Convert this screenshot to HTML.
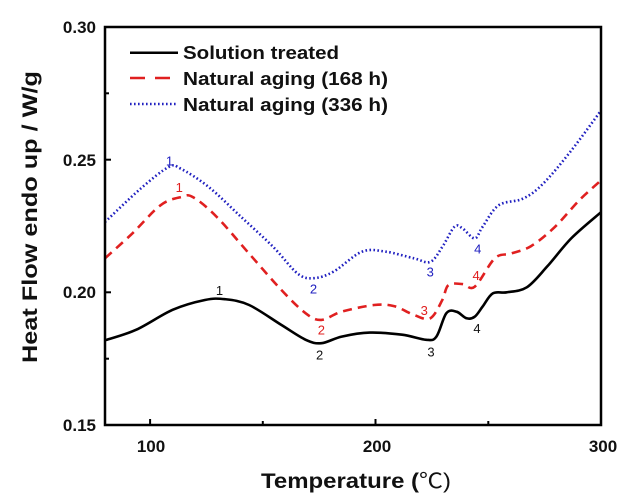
<!DOCTYPE html>
<html><head><meta charset="utf-8"><style>html,body{margin:0;padding:0;background:#fff}svg{display:block}</style></head>
<body>
<svg id="s" width="631" height="504" viewBox="0 0 631 504" xmlns="http://www.w3.org/2000/svg" font-family="Liberation Sans, Arial, sans-serif">
<rect width="631" height="504" fill="#fff"/>
<g id="curves"></g>
<rect x="105" y="27" width="496" height="398" fill="none" stroke="#000" stroke-width="2.5"/>
<g stroke="#000" stroke-width="2">
<line x1="150.1" y1="425" x2="150.1" y2="419"/><line x1="262.8" y1="425" x2="262.8" y2="421"/>
<line x1="375.5" y1="425" x2="375.5" y2="419"/><line x1="488.3" y1="425" x2="488.3" y2="421"/>
<line x1="105" y1="159.7" x2="111" y2="159.7"/><line x1="105" y1="292.3" x2="111" y2="292.3"/>
<line x1="105" y1="93.3" x2="109" y2="93.3"/><line x1="105" y1="358.7" x2="109" y2="358.7"/>
</g>
<g font-size="17" font-weight="bold" fill="#111" text-anchor="end">
<text x="96" y="33">0.30</text><text x="96" y="166">0.25</text><text x="96" y="298">0.20</text><text x="96" y="431">0.15</text>
</g>
<g font-size="17" font-weight="bold" fill="#111" text-anchor="middle">
<text x="151" y="452">100</text><text x="377" y="452">200</text><text x="603" y="452">300</text>
</g>
<text x="356" y="488" font-size="21" fill="#111" text-anchor="middle" font-family="Liberation Sans, Noto Sans CJK SC, sans-serif" textLength="190" lengthAdjust="spacingAndGlyphs"><tspan font-weight="bold">Temperature (</tspan>℃)</text>
<text transform="translate(37,217) rotate(-90)" font-size="21" font-weight="bold" fill="#111" text-anchor="middle" textLength="292" lengthAdjust="spacingAndGlyphs">Heat Flow endo up / W/g</text>
<line x1="130" y1="52.7" x2="178" y2="52.7" stroke="#000" stroke-width="2.5"/>
<line x1="130" y1="78" x2="178" y2="78" stroke="#e02020" stroke-width="2.5" stroke-dasharray="15,10"/>
<line x1="130" y1="104" x2="178" y2="104" stroke="#2020c0" stroke-width="2.5" stroke-dasharray="1.6,2.4"/>
<g font-size="18" font-weight="bold" fill="#111">
<text x="183" y="59" textLength="156" lengthAdjust="spacingAndGlyphs">Solution treated</text>
<text x="183" y="85" textLength="205" lengthAdjust="spacingAndGlyphs">Natural aging (168 h)</text>
<text x="183" y="111" textLength="205" lengthAdjust="spacingAndGlyphs">Natural aging (336 h)</text>
</g>
<g id="labels" font-size="13" text-anchor="middle"></g>
</svg>
<script>
var X=t=>105+(t-80)*2.2545, Y=v=>27+(0.30-v)*2653;
function path(pts){var p=pts.map(a=>[X(a[0]),Y(a[1])]);var d="M"+p[0][0].toFixed(1)+","+p[0][1].toFixed(1);
for(var i=0;i<p.length-1;i++){var p0=p[i-1]||p[i],p1=p[i],p2=p[i+1],p3=p[i+2]||p2;
var c1=[p1[0]+(p2[0]-p0[0])/6,p1[1]+(p2[1]-p0[1])/6],c2=[p2[0]-(p3[0]-p1[0])/6,p2[1]-(p3[1]-p1[1])/6];
d+=" C"+c1[0].toFixed(1)+","+c1[1].toFixed(1)+" "+c2[0].toFixed(1)+","+c2[1].toFixed(1)+" "+p2[0].toFixed(1)+","+p2[1].toFixed(1);}return d;}
var black=[[80,0.1819],[93.9,0.1859],[110,0.1934],[124.3,0.1971],[133.2,0.1974],[143.9,0.1952],[158.2,0.1877],[169,0.1821],[176,0.1808],[185,0.1833],[197.5,0.1848],[211.8,0.184],[222.5,0.1821],[227,0.1833],[231.4,0.1921],[235.9,0.1927],[240.4,0.1902],[244,0.1908],[247.5,0.1946],[252,0.1996],[258.2,0.2],[267.1,0.2019],[276,0.2096],[286.8,0.2203],[300,0.2302]];
var red=[[80,0.2128],[92,0.2221],[104.6,0.2328],[113.6,0.2359],[119,0.2359],[129.6,0.2284],[143.9,0.2146],[158.2,0.2009],[169,0.1921],[176,0.1896],[185,0.1927],[199.3,0.1952],[208.2,0.1948],[217,0.1915],[224.3,0.1902],[229.6,0.1971],[232.3,0.2027],[238.6,0.2031],[244,0.2021],[252.9,0.2128],[260,0.2146],[269,0.2174],[279.6,0.2247],[290.4,0.2347],[300,0.2422]];
var blue=[[80,0.2265],[95.7,0.239],[108.2,0.2472],[113.6,0.2466],[126,0.2397],[140.4,0.2284],[154.6,0.2171],[165.4,0.2071],[172.5,0.2053],[181.4,0.2078],[194,0.2153],[204.6,0.2153],[217,0.2128],[224.3,0.2115],[229.6,0.2171],[235,0.2247],[238.6,0.2241],[244,0.2203],[247.5,0.2247],[254.6,0.2328],[265.4,0.2353],[274.3,0.2409],[286.8,0.2534],[300,0.2685]];
var g=document.getElementById("curves"),ns="http://www.w3.org/2000/svg";
function add(pts,col,da){var e=document.createElementNS(ns,"path");e.setAttribute("d",path(pts));e.setAttribute("fill","none");e.setAttribute("stroke",col);e.setAttribute("stroke-width","2.6");if(da)e.setAttribute("stroke-dasharray",da);g.appendChild(e);}
add(black,"#000");add(red,"#e02020","9,6");add(blue,"#2020c0","1.6,2.4");
var L=[["1",108.6,0.2497,"#2020c0"],["1",112.9,0.2397,"#e02020"],["1",130.8,0.2009,"#111"],["2",172.5,0.2015,"#2020c0"],["2",176,0.1859,"#e02020"],["2",175.2,0.1765,"#111"],["3",224.3,0.2078,"#2020c0"],["3",221.6,0.1934,"#e02020"],["3",224.6,0.1777,"#111"],["4",245.3,0.2165,"#2020c0"],["4",244.6,0.2065,"#e02020"],["4",245,0.1865,"#111"]];
var lg=document.getElementById("labels");
L.forEach(function(l){var t=document.createElementNS(ns,"text");t.setAttribute("x",X(l[1]).toFixed(1));t.setAttribute("y",(Y(l[2])+5).toFixed(1));t.setAttribute("fill",l[3]);t.textContent=l[0];lg.appendChild(t);});
</script>
</body></html>
